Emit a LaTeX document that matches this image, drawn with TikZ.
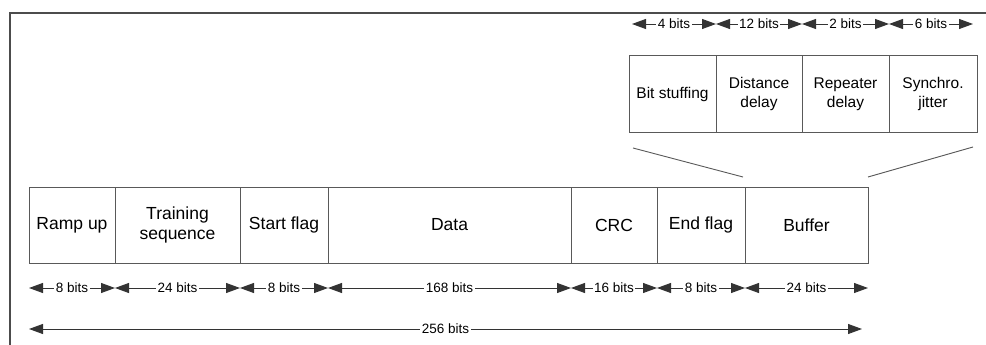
\documentclass[tikz,border=0pt]{standalone}
\usepackage{fontspec}
\setmainfont{Liberation Sans}
\usetikzlibrary{arrows.meta,calc}
\begin{document}
\begin{tikzpicture}[x=1pt,y=-1pt,
  box/.style={draw=black!65,line width=1pt,rectangle,inner sep=0pt,outer sep=0pt,
    anchor=north west,align=center,text=black,font=\fontsize{17.5}{20}\selectfont},
  ubox/.style={box,font=\fontsize{15.5}{19}\selectfont},
  dim/.style={draw=black!80,line width=0.9pt,
    {Triangle[length=14pt,width=10pt]}-{Triangle[length=14pt,width=10pt]}},
  lab/.style={fill=white,inner sep=1.5pt,text=black,font=\fontsize{13.5}{15}\selectfont},
  zoomline/.style={draw=black!65,line width=0.9pt},
  frameline/.style={draw=black!70,line width=1.4pt}]
\useasboundingbox (0,0) rectangle (986,345);
% frame
\coordinate (fa) at (10,345);
\coordinate (fb) at (10,13);
\coordinate (fc) at (986,13);
\draw[frameline] (fa) -- (fb) -- (fc);
% lower boxes
\node[box,minimum width=86pt,minimum height=76pt] (ramp) at (29,187) {Ramp up};
\node[box,minimum width=125pt,minimum height=76pt] (train) at (115,187) {Training\\sequence};
\node[box,minimum width=88pt,minimum height=76pt] (start) at (240,187) {Start flag};
\node[box,minimum width=243pt,minimum height=76pt] (data) at (328,187) {Data};
\node[box,minimum width=86pt,minimum height=76pt] (crc) at (571,187) {CRC};
\node[box,minimum width=88pt,minimum height=76pt] (endf) at (657,187) {End flag};
\node[box,minimum width=123pt,minimum height=76pt] (buf) at (745,187) {Buffer};
% upper boxes
\node[ubox,minimum width=87pt,minimum height=76pt] (bs) at (629,56) {Bit stuffing};
\node[ubox,minimum width=86pt,minimum height=76pt] (dd) at (716,56) {Distance\\delay};
\node[ubox,minimum width=87pt,minimum height=76pt] (rd) at (802,56) {Repeater\\delay};
\node[ubox,minimum width=88pt,minimum height=76pt] (sj) at (889,56) {Synchro.\\jitter};
% zoom lines
\draw[zoomline] ($(bs.south west)+(4,16)$) -- ($(buf.north west)+(-2,-10)$);
\draw[zoomline] ($(sj.south east)+(-4,15)$) -- ($(buf.north east)+(0,-10)$);
% lower dimension row
\coordinate (r1) at (0,288);
\draw[dim] (ramp.west |- r1) -- node[lab]{8 bits} (ramp.east |- r1);
\draw[dim] (train.west |- r1) -- node[lab]{24 bits} (train.east |- r1);
\draw[dim] (start.west |- r1) -- node[lab]{8 bits} (start.east |- r1);
\draw[dim] (data.west |- r1) -- node[lab]{168 bits} (data.east |- r1);
\draw[dim] (crc.west |- r1) -- node[lab]{16 bits} (crc.east |- r1);
\draw[dim] (endf.west |- r1) -- node[lab]{8 bits} (endf.east |- r1);
\draw[dim] (buf.west |- r1) -- node[lab]{24 bits} (buf.east |- r1);
% total
\coordinate (r2) at (0,329);
\draw[dim] (ramp.west |- r2) -- node[lab,pos=0.5]{256 bits} ($(buf.east |- r2)+(-6,0)$);
% upper dimension row
\coordinate (r3) at (0,24);
\draw[dim] ($(bs.west |- r3)+(3,0)$) -- node[lab]{4 bits} (bs.east |- r3);
\draw[dim] (dd.west |- r3) -- node[lab]{12 bits} (dd.east |- r3);
\draw[dim] (rd.west |- r3) -- node[lab]{2 bits} (rd.east |- r3);
\draw[dim] (sj.west |- r3) -- node[lab]{6 bits} ($(sj.east |- r3)+(-4,0)$);
\end{tikzpicture}
\end{document}
